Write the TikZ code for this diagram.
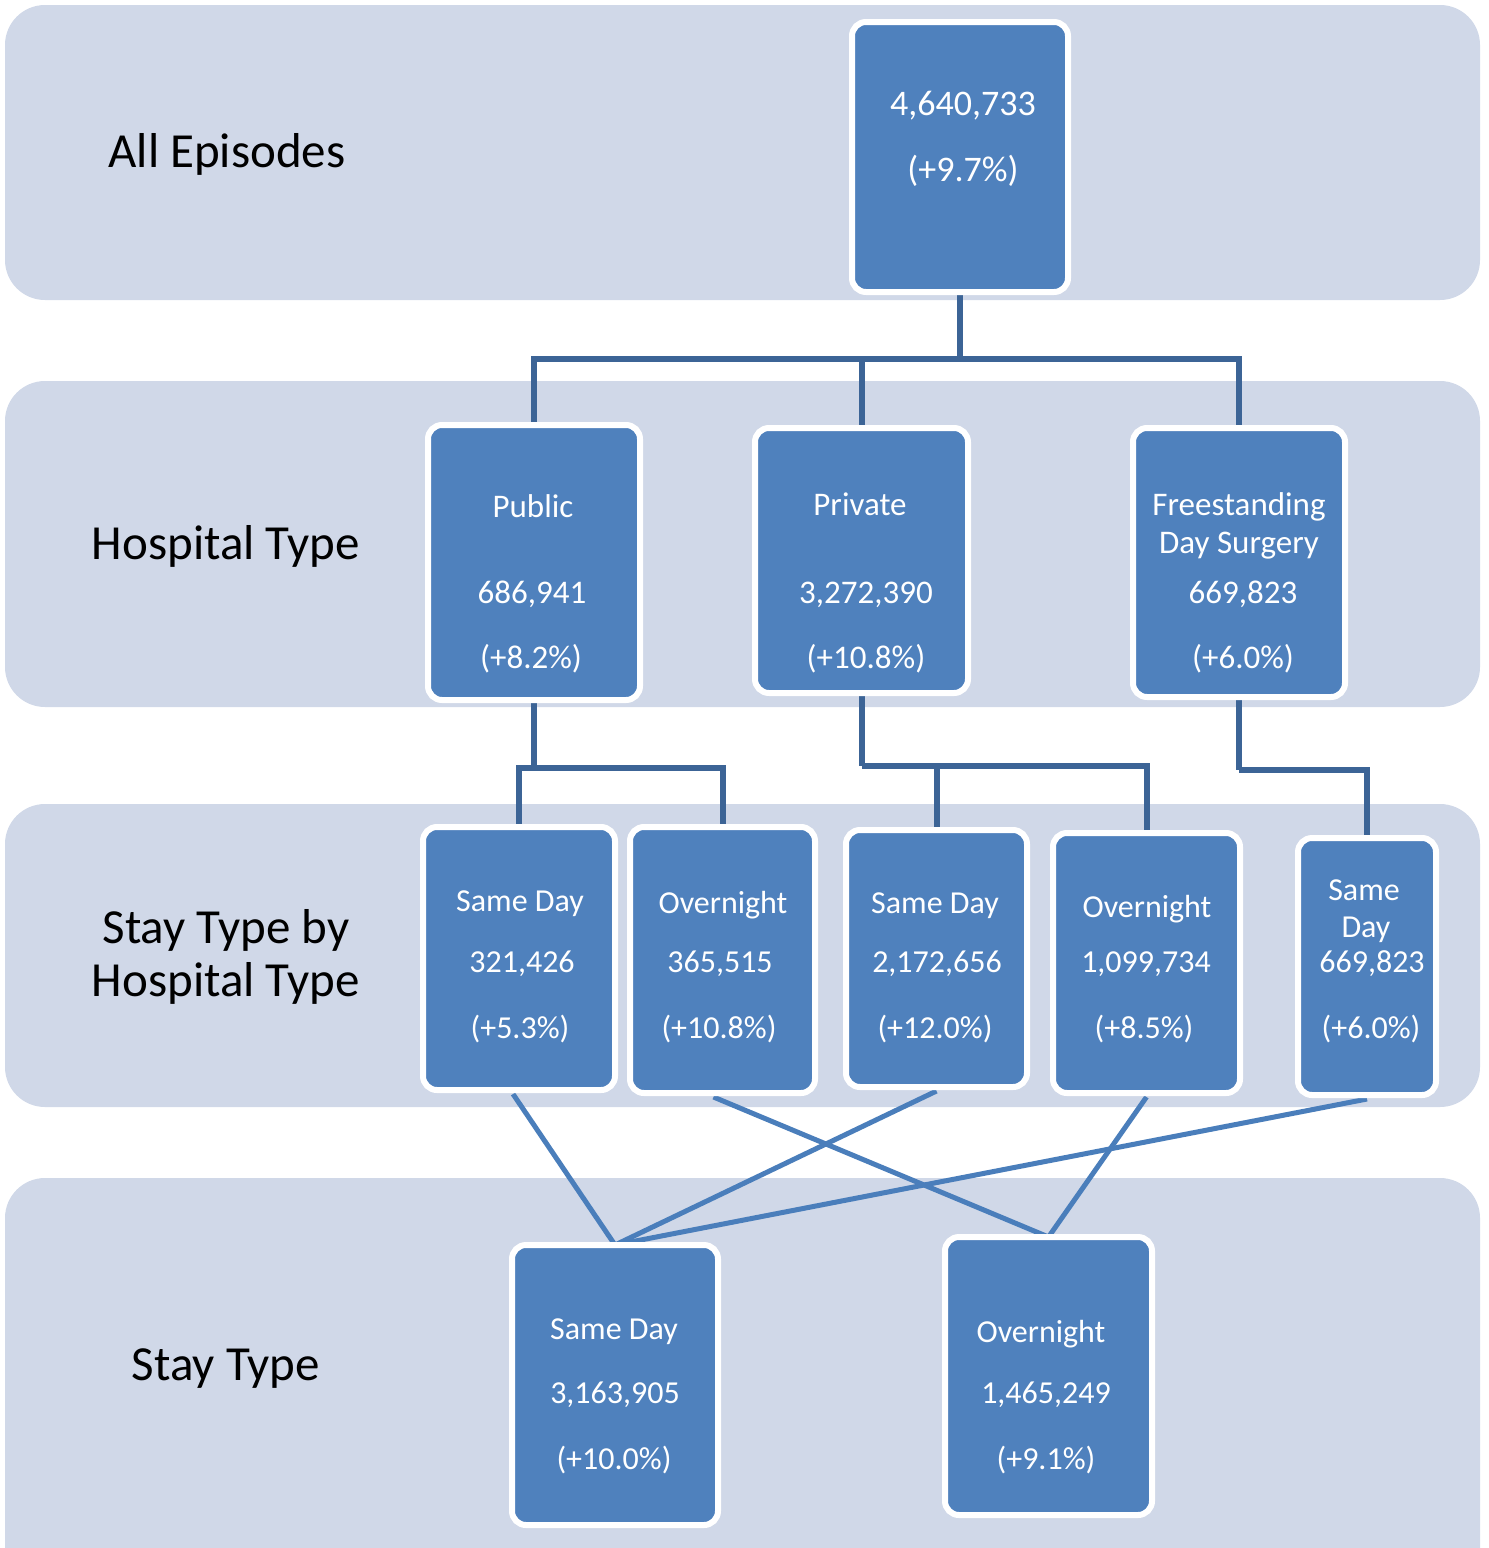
\documentclass[tikz,border=0pt]{standalone}
\usepackage{fontspec}
\setmainfont{Carlito}
\definecolor{band}{HTML}{D0D8E8}
\definecolor{boxblue}{HTML}{4F81BD}
\definecolor{tree}{HTML}{3C6496}
\definecolor{cross}{HTML}{4A7EBB}
\begin{document}
\begin{tikzpicture}[x=1pt,y=-1pt,
  bandbox/.style={fill=band, rounded corners=40pt},
  bluebox/.style={draw=white, line width=6pt, fill=boxblue, rounded corners=14pt, inner sep=0pt},
  txt/.style={text=white, inner sep=0pt, text height=20pt, text depth=0pt, font=\fontsize{32}{38}\selectfont},
  txtbig/.style={txt, text height=23pt, font=\fontsize{36}{42}\selectfont},
  txtmid/.style={txt, text height=21pt, font=\fontsize{33}{40}\selectfont},
  lab/.style={text=black, inner sep=0pt, text height=31pt, text depth=0pt, font=\fontsize{49}{57}\selectfont},
  treeline/.style={draw=tree, line width=6pt},
  crossline/.style={draw=cross, line width=5pt}
]
\useasboundingbox (0,0) rectangle (1489,1548);
% bands
\path[bandbox] (5,5) rectangle (1480,300);
\path[bandbox] (5,381) rectangle (1480,707);
\path[bandbox] (5,804) rectangle (1480,1107);
\path[bandbox] (5,1178) rectangle (1480,1600);

% boxes (positions)
\path (960,157) node[bluebox, minimum width=210pt, minimum height=264pt, draw=none, fill=none] (top) {};
\path (534,562.5) node[bluebox, minimum width=206pt, minimum height=269pt, draw=none, fill=none] (pub) {};
\path (861.5,560.5) node[bluebox, minimum width=207pt, minimum height=259pt, draw=none, fill=none] (pri) {};
\path (1239,562.5) node[bluebox, minimum width=206pt, minimum height=263pt, draw=none, fill=none] (fre) {};
\path (519,958.5) node[bluebox, minimum width=186pt, minimum height=257pt, draw=none, fill=none] (sd1) {};
\path (722.5,960) node[bluebox, minimum width=179pt, minimum height=260pt, draw=none, fill=none] (on1) {};
\path (936.5,958.5) node[bluebox, minimum width=175pt, minimum height=251pt, draw=none, fill=none] (sd2) {};
\path (1146.5,963) node[bluebox, minimum width=181pt, minimum height=254pt, draw=none, fill=none] (on2) {};
\path (1367,966.5) node[bluebox, minimum width=132pt, minimum height=251pt, draw=none, fill=none] (sd3) {};
\path (615,1385) node[bluebox, minimum width=200pt, minimum height=274pt, draw=none, fill=none] (ssd) {};
\path (1048.5,1376) node[bluebox, minimum width=201pt, minimum height=272pt, draw=none, fill=none] (son) {};

% tree connectors
\draw[treeline] (top.south) -- ++(0,67) coordinate (j1);
\draw[treeline] (j1) -| (pub.north);
\draw[treeline] (j1) -| (pri.north);
\draw[treeline] (j1) -| (fre.north);
\draw[treeline] (pub.south) -- ++(0,68) coordinate (j2);
\draw[treeline] (j2) -| (sd1.north);
\draw[treeline] (j2) -| (on1.north);
\draw[treeline] (pri.south) -- ++(0,73) coordinate (j3);
\draw[treeline] (j3) -| (sd2.north);
\draw[treeline] (j3) -| (on2.north);
\draw[treeline] (fre.south) -- ++(0,73) coordinate (j4);
\draw[treeline] (j4) -| (sd3.north);

% crossing connectors
\draw[crossline] ([xshift=-6pt,yshift=-4pt]sd1.south) -- (ssd.north);
\draw[crossline] ([xshift=-9pt,yshift=-4pt]on1.south) -- (son.north);
\draw[crossline] ([yshift=-4pt]sd2.south) -- (ssd.north);
\draw[crossline] ([yshift=-4pt]on2.south) -- (son.north);
\draw[crossline] ([yshift=-4pt]sd3.south) -- (ssd.north);

% draw the boxes on top
\foreach \n in {top,pub,pri,fre,sd1,on1,sd2,on2,sd3,ssd,son}{
  \draw[bluebox] (\n.north west) rectangle (\n.south east);
}

% labels
\node[lab] (l1) at (227,152) {All Episodes};
\node[lab] (l2) at (226,544) {Hospital Type};
\node[lab] (l3a) at (226,928) {Stay Type by};
\node[lab] (l3b) at (226,981) {Hospital Type};
\node[lab] (l4) at (226,1365) {Stay Type};

% box texts
\node[txtbig] (t1a) at (963,104) {4,640,733};
\node[txtbig] (t1b) at (963,170) {(+9.7\%)};

\node[txtmid] (t2a) at (533,507) {Public};
\node[txtmid] (t2b) at (532,593) {686,941};
\node[txtmid] (t2c) at (531,658) {(+8.2\%)};

\node[txtmid] (t3a) at (860,505) {Private};
\node[txtmid] (t3b) at (866,593) {3,272,390};
\node[txtmid] (t3c) at (866,658) {(+10.8\%)};

\node[txtmid] (t4a) at (1239,505) {Freestanding};
\node[txtmid] (t4b) at (1239,543) {Day Surgery};
\node[txtmid] (t4c) at (1243,593) {669,823};
\node[txtmid] (t4d) at (1243,658) {(+6.0\%)};

\node[txt] (t5a) at (520,901) {Same Day};
\node[txt] (t5b) at (522,962) {321,426};
\node[txt] (t5c) at (520,1028) {(+5.3\%)};

\node[txt] (t6a) at (723,903) {Overnight};
\node[txt] (t6b) at (720,962) {365,515};
\node[txt] (t6c) at (719,1028) {(+10.8\%)};

\node[txt] (t7a) at (935,903) {Same Day};
\node[txt] (t7b) at (937,962) {2,172,656};
\node[txt] (t7c) at (935,1028) {(+12.0\%)};

\node[txt] (t8a) at (1147,907) {Overnight};
\node[txt] (t8b) at (1146,962) {1,099,734};
\node[txt] (t8c) at (1144,1028) {(+8.5\%)};

\node[txt] (t9a) at (1364,890) {Same};
\node[txt] (t9b) at (1366,927) {Day};
\node[txt] (t9c) at (1372,962) {669,823};
\node[txt] (t9d) at (1371,1028) {(+6.0\%)};

\node[txt] (t10a) at (614,1329) {Same Day};
\node[txt] (t10b) at (615,1393) {3,163,905};
\node[txt] (t10c) at (614,1459) {(+10.0\%)};

\node[txt] (t11a) at (1041,1332) {Overnight};
\node[txt] (t11b) at (1046,1393) {1,465,249};
\node[txt] (t11c) at (1046,1459) {(+9.1\%)};
\end{tikzpicture}
\end{document}
